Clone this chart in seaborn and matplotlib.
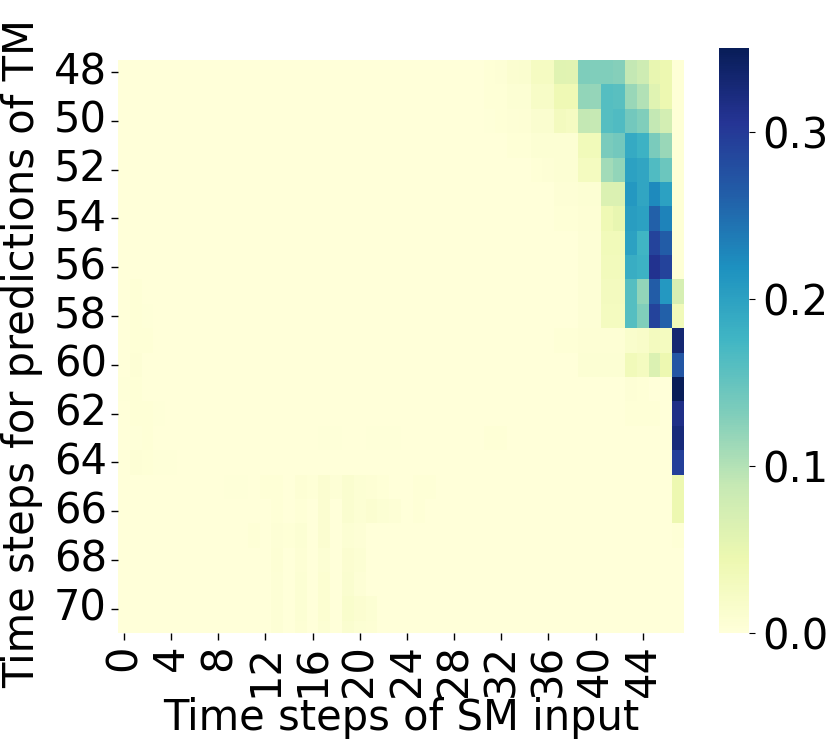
import numpy as np
import pandas as pd
import matplotlib
matplotlib.use("Agg")
import matplotlib.pyplot as plt
import seaborn as sns

# Row labels (time steps for predictions of TM) and column labels (time steps of SM input)
rows = list(range(48, 72))
cols = list(range(0, 48))

# Sparse cell values, in thousandths; unlisted cells take the background value
background = 1
cells = {
    48: {31: 4, 32: 5, 33: 10, 34: 12, 35: 25, 36: 25, 37: 60, 38: 58, 39: 132, 40: 130,
         41: 130, 42: 128, 43: 90, 44: 80, 45: 50, 46: 45, 47: 3},
    49: {31: 3, 32: 4, 33: 8, 34: 8, 35: 20, 36: 20, 37: 40, 38: 40, 39: 120, 40: 118,
         41: 160, 42: 158, 43: 115, 44: 100, 45: 60, 46: 45, 47: 3},
    50: {31: 2, 32: 3, 33: 5, 34: 6, 35: 12, 36: 12, 37: 30, 38: 25, 39: 90, 40: 88,
         41: 160, 42: 165, 43: 140, 44: 130, 45: 90, 46: 75, 47: 3},
    51: {33: 4, 34: 4, 35: 7, 36: 7, 37: 8, 38: 8, 39: 35, 40: 35, 41: 135, 42: 140,
         43: 190, 44: 180, 45: 135, 46: 115, 47: 3},
    52: {35: 4, 36: 5, 37: 8, 38: 8, 39: 28, 40: 28, 41: 110, 42: 120, 43: 200, 44: 195,
         45: 165, 46: 145, 47: 3},
    53: {37: 5, 38: 5, 39: 8, 40: 8, 41: 65, 42: 65, 43: 210, 44: 195, 45: 225, 46: 200, 47: 3},
    54: {37: 4, 38: 4, 39: 6, 40: 6, 41: 40, 42: 50, 43: 205, 44: 200, 45: 260, 46: 230, 47: 3},
    55: {39: 5, 40: 5, 41: 35, 42: 35, 43: 200, 44: 176, 45: 290, 46: 265, 47: 3},
    56: {39: 5, 40: 5, 41: 32, 42: 32, 43: 185, 44: 180, 45: 310, 46: 290, 47: 3},
    57: {1: 3, 39: 5, 40: 5, 41: 30, 42: 30, 43: 160, 44: 120, 45: 265, 46: 210, 47: 70},
    58: {1: 3, 2: 2, 39: 5, 40: 5, 41: 28, 42: 28, 43: 160, 44: 130, 45: 290, 46: 260, 47: 35},
    59: {1: 4, 2: 3, 37: 3, 38: 3, 39: 6, 40: 6, 41: 6, 42: 6, 43: 15, 44: 18, 45: 30,
         46: 28, 47: 330},
    60: {1: 5, 39: 8, 40: 8, 41: 8, 42: 8, 43: 35, 44: 28, 45: 65, 46: 45, 47: 270},
    61: {0: 2, 1: 3, 43: 5, 44: 4, 47: 350},
    62: {1: 4, 2: 3, 3: 2, 43: 4, 44: 4, 45: 4, 47: 315},
    63: {1: 2, 2: 3, 17: 2, 18: 2, 21: 2, 22: 2, 23: 2, 31: 3, 32: 3, 47: 325},
    64: {1: 5, 2: 3, 3: 2, 4: 2, 47: 295},
    65: {9: 2, 10: 2, 12: 3, 13: 4, 15: 6, 16: 4, 17: 10, 18: 5, 19: 12, 20: 8, 21: 6,
         22: 3, 25: 3, 26: 3, 47: 45},
    66: {13: 3, 15: 4, 17: 10, 19: 12, 20: 8, 21: 10, 22: 7, 23: 5, 25: 3, 47: 45},
    67: {11: 3, 13: 5, 14: 3, 15: 7, 17: 10, 19: 8, 20: 5, 47: 3},
    68: {13: 6, 15: 6, 17: 8, 19: 10, 20: 8},
    69: {13: 5, 15: 7, 17: 9, 19: 11, 20: 5},
    70: {13: 5, 15: 7, 17: 9, 19: 14, 20: 10, 21: 8},
    71: {13: 5, 15: 6, 17: 8, 19: 12, 20: 8, 21: 6},
}

mat = np.full((len(rows), len(cols)), background, dtype=float)
for r, d in cells.items():
    for c, v in d.items():
        mat[rows.index(r), cols.index(c)] = v
df = pd.DataFrame(mat / 1000.0, index=rows, columns=cols)

W, H = 831, 752
fig = plt.figure(figsize=(W / 100, H / 100), dpi=100)
ax = fig.add_axes([118 / W, (H - 633) / H, (684 - 118) / W, (633 - 60) / H])
cax = fig.add_axes([719 / W, (H - 633) / H, 30 / W, (633 - 48) / H])

sns.heatmap(df, ax=ax, cbar_ax=cax, cmap="YlGnBu", vmin=0, vmax=0.350,
            xticklabels=4, yticklabels=2)
ax.set_ylim(23.5, 0)

fs = 30
ax.set_xlabel("Time steps of SM input", fontsize=fs, labelpad=0)
ax.set_ylabel("Time steps for predictions of TM", fontsize=fs)
ax.yaxis.set_label_coords(-0.133, (633 - 354) / 573)
ax.tick_params(axis="both", labelsize=fs, length=5, width=1, pad=3)
plt.setp(ax.get_xticklabels(), rotation=90)
plt.setp(ax.get_yticklabels(), rotation=0)

cax.set_yticks([0.0, 0.1, 0.2, 0.3])
cax.set_yticklabels(["0.0", "0.1", "0.2", "0.3"])
cax.tick_params(labelsize=fs, length=4.5, width=0.8, pad=5)

fig.savefig("out.png", dpi=100)
